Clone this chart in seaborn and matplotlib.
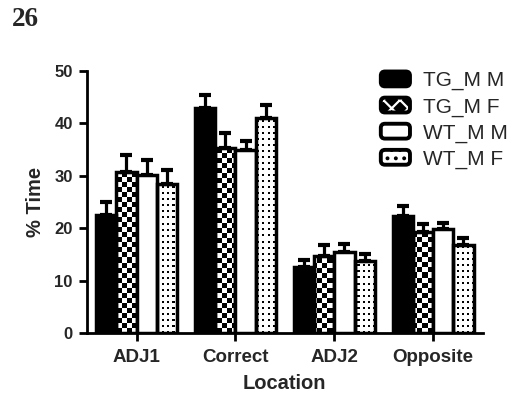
import numpy as np
import pandas as pd
import matplotlib
matplotlib.use("Agg")
import matplotlib.pyplot as plt
import seaborn as sns
from matplotlib.patches import Rectangle, FancyBboxPatch
from matplotlib.legend_handler import HandlerBase

# ---- data -------------------------------------------------------------
locations = ["ADJ1", "Correct", "ADJ2", "Opposite"]
groups = ["TG_M M", "TG_M F", "WT_M M", "WT_M F"]

tg_mm = [22.5, 42.9, 12.7, 22.3]
tg_mf = [30.7, 35.4, 14.8, 19.3]
wt_mm = [30.1, 34.9, 15.4, 19.8]
wt_mf = [28.5, 41.0, 13.8, 16.8]

tg_mm_sem = [2.5, 2.5, 1.3, 2.0]
tg_mf_sem = [3.2, 2.7, 2.0, 1.5]
wt_mm_sem = [2.9, 1.8, 1.7, 1.2]
wt_mf_sem = [2.6, 2.6, 1.4, 1.4]

yticks = [0, 10, 20, 30, 40, 50]

means = [tg_mm, tg_mf, wt_mm, wt_mf]
sems = [tg_mm_sem, tg_mf_sem, wt_mm_sem, wt_mf_sem]

df = pd.DataFrame(
    [(loc, g, means[gi][li]) for gi, g in enumerate(groups)
     for li, loc in enumerate(locations)],
    columns=["Location", "Group", "Time"],
)

# ---- style ------------------------------------------------------------
sns.set_style("ticks")
plt.rcParams["font.family"] = ["Liberation Sans", "DejaVu Sans"]
plt.rcParams["hatch.linewidth"] = 1.6

W, H, DPI = 5.16, 4.0, 100
fig = plt.figure(figsize=(W, H), dpi=DPI)
ax_rect = [0.168, 0.1668, 0.768, 0.6557]
ax = fig.add_axes(ax_rect)

palette = {"TG_M M": "black", "TG_M F": "white",
           "WT_M M": "white", "WT_M F": "white"}

sns.barplot(data=df, x="Location", y="Time", hue="Group",
            order=locations, hue_order=groups, palette=palette,
            width=0.82, errorbar=None, edgecolor="black", linewidth=2.5,
            saturation=1, legend=False, ax=ax)
bar_groups = list(ax.containers)

xlim = (-0.505, 3.505)
ylim = (0, 50)
ax.set_xlim(*xlim)
ax.set_ylim(*ylim)

# ---- fill patterns (checker / dots) clipped to bars ---------------------
wpx = int(round(ax_rect[2] * W * DPI))
hpx = int(round(ax_rect[3] * H * DPI))
yy, xx = np.mgrid[0:hpx, 0:wpx]
checker = (((xx // 5) + (yy // 5)) % 2).astype(float)      # 1 = white
dots = 1.0 - (((xx % 5) < 2) & ((yy % 6) < 2)).astype(float)

patterns = {1: checker, 3: dots}
for gi, container in enumerate(bar_groups):
    for bar in container:
        bar.set_zorder(2)
        if gi in patterns:
            bar.set_facecolor("none")
            im = ax.imshow(patterns[gi], cmap="gray", vmin=0, vmax=1,
                           extent=(xlim[0], xlim[1], ylim[0], ylim[1]),
                           origin="lower", aspect="auto",
                           interpolation="nearest", zorder=1.5)
            im.set_clip_path(bar)

# ---- error bars (upper SEM only) -------------------------------------
for gi, container in enumerate(bar_groups):
    xs = [b.get_x() + b.get_width() / 2 for b in container]
    hs = [b.get_height() for b in container]
    ax.errorbar(xs, hs, yerr=[np.zeros(len(hs)), sems[gi]], fmt="none",
                ecolor="black", elinewidth=2.3, capsize=4.5, capthick=3,
                zorder=1.8)

ax.set_xlim(*xlim)
ax.set_ylim(*ylim)

# ---- axes styling -------------------------------------------------------
sns.despine(ax=ax)
for side in ("left", "bottom"):
    ax.spines[side].set_linewidth(2)
    ax.spines[side].set_color("black")
ax.set_yticks(yticks)
ax.tick_params(axis="both", width=2, length=6, color="black")
ax.tick_params(axis="y", labelsize=12, pad=4)
ax.tick_params(axis="x", labelsize=13.5, pad=5)
for lbl in ax.get_xticklabels() + ax.get_yticklabels():
    lbl.set_fontweight("bold")
ax.set_xlabel("Location", fontsize=14.5, fontweight="bold", labelpad=6)
ax.set_ylabel("% Time", fontsize=14.5, fontweight="bold", labelpad=7)


# ---- legend with rounded, patterned keys --------------------------------
class KeyHandler(HandlerBase):
    def __init__(self, face, hatch=None, hatch_color="black"):
        super().__init__()
        self.face = face
        self.hatch = hatch
        self.hatch_color = hatch_color

    def create_artists(self, legend, orig_handle, xdescent, ydescent,
                       width, height, fontsize, trans):
        xy = (-xdescent, -ydescent)
        style = "round,pad=0,rounding_size=3"
        arts = [FancyBboxPatch(xy, width, height, boxstyle=style,
                               fc=self.face, ec="none", transform=trans)]
        if self.hatch:
            arts.append(FancyBboxPatch(xy, width, height, boxstyle=style,
                                       fc="none", ec=self.hatch_color, lw=0,
                                       hatch=self.hatch, transform=trans))
        arts.append(FancyBboxPatch(xy, width, height, boxstyle=style,
                                   fc="none", ec="black", lw=2.8,
                                   transform=trans))
        return arts


handles = [Rectangle((0, 0), 1, 1) for _ in groups]
handlers = [KeyHandler("black"),
            KeyHandler("black", hatch="xx", hatch_color="white"),
            KeyHandler("white"),
            KeyHandler("white", hatch="..", hatch_color="black")]
leg = fig.legend(handles, groups,
                 handler_map={h: hd for h, hd in zip(handles, handlers)},
                 loc="upper left", bbox_to_anchor=(0.738, 0.822),
                 frameon=False, fontsize=15, borderpad=0, borderaxespad=0,
                 handlelength=1.4, handleheight=0.72, handletextpad=0.62,
                 labelspacing=0.33)

# ---- page header ------------------------------------------------------
fig.text(0.0227, 0.934, "26", fontsize=19.5, fontweight="bold",
         family=["Liberation Serif", "DejaVu Serif"], va="baseline")

fig.savefig("out.png", dpi=DPI)
